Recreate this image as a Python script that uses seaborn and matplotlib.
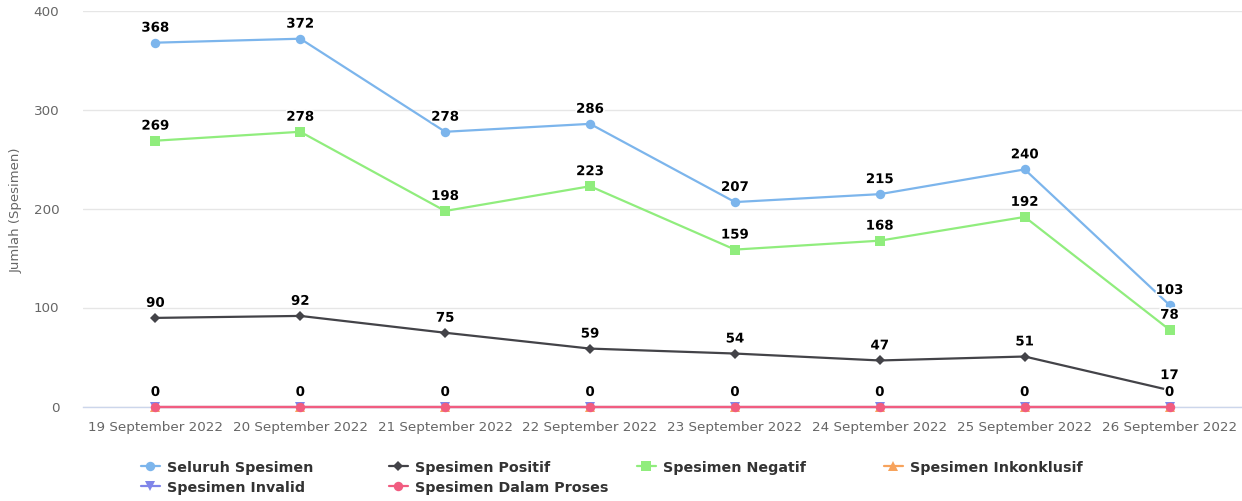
import matplotlib
matplotlib.use("Agg")
import matplotlib.pyplot as plt
import matplotlib.patheffects as pe
import seaborn as sns
import pandas as pd

tanggal = ["19 September 2022", "20 September 2022", "21 September 2022", "22 September 2022",
           "23 September 2022", "24 September 2022", "25 September 2022", "26 September 2022"]
seluruh = [368, 372, 278, 286, 207, 215, 240, 103]
positif = [90, 92, 75, 59, 54, 47, 51, 17]
negatif = [269, 278, 198, 223, 159, 168, 192, 78]
inkonklusif = [0, 0, 0, 0, 0, 0, 0, 0]
invalid = [0, 0, 0, 0, 0, 0, 0, 0]
dalam_proses = [0, 0, 0, 0, 0, 0, 0, 0]

series = [
    ("Seluruh Spesimen", seluruh, "#7cb5ec", "o", 6.8),
    ("Spesimen Positif", positif, "#434348", "D", 4.8),
    ("Spesimen Negatif", negatif, "#90ed7d", "s", 6.8),
    ("Spesimen Inkonklusif", inkonklusif, "#f7a35c", "^", 6.8),
    ("Spesimen Invalid", invalid, "#8085e9", "v", 6.8),
    ("Spesimen Dalam Proses", dalam_proses, "#f15c80", "o", 6.8),
]

sns.set_style("white")
plt.rcParams['font.family'] = ['DejaVu Sans']

fig = plt.figure(figsize=(12.42, 5.02), dpi=100)
ax = fig.add_axes([83 / 1242, 1 - 408 / 502, 1 - 83 / 1242, (408 - 12) / 502])

for i, (name, vals, col, mk, ms) in enumerate(series):
    df = pd.DataFrame({"tanggal": tanggal, "jumlah": vals})
    sns.lineplot(data=df, x="tanggal", y="jumlah", ax=ax, color=col, marker=mk,
                 markersize=ms, markeredgewidth=0, linewidth=1.6, label=name,
                 zorder=3 + i, sort=False, clip_on=False)

# data labels, hide ones that would sit on top of each other
sudah = set()
for name, vals, col, mk, ms in reversed(series):
    for j, v in enumerate(vals):
        if (j, v) in sudah:
            continue
        sudah.add((j, v))
        ax.annotate(str(v), (j, v), xytext=(0, 10.5), textcoords="offset points",
                    ha="center", va="center", fontsize=9.6, fontweight="bold",
                    color="black", zorder=20,
                    path_effects=[pe.withStroke(linewidth=2.5, foreground="white")])

ax.set_xlim(-0.5, len(tanggal) - 0.5)
ax.set_ylim(0, 400)
ax.set_yticks([0, 100, 200, 300, 400])
ax.grid(axis="y", color="#e6e6e6", linewidth=1)
ax.set_axisbelow(True)
for s in ["top", "right", "left"]:
    ax.spines[s].set_visible(False)
ax.spines["bottom"].set_color("#ccd6eb")
ax.spines["bottom"].set_linewidth(1)
ax.tick_params(axis="both", length=0, colors="#666666", labelsize=9.7)
ax.tick_params(axis="x", pad=9)
ax.tick_params(axis="y", pad=17)
ax.set_xlabel("")
ax.set_ylabel("Jumlah (Spesimen)", color="#666666", fontsize=9.5, labelpad=8)
for t in ax.get_yticklabels():
    t.set_va("center")

handles, labels = ax.get_legend_handles_labels()
ax.get_legend().remove()
# legend placed as four columns, like the original
kolom = [[0, 4], [1, 5], [2], [3]]
xs = [141, 389, 637, 884]
for idx, x0 in zip(kolom, xs):
    leg = fig.legend([handles[k] for k in idx], [labels[k] for k in idx],
                     loc="upper left", bbox_to_anchor=(x0 / 1242, 1 - 461 / 502),
                     frameon=False, handlelength=1.3, handletextpad=0.5,
                     labelspacing=0.45, borderpad=0, borderaxespad=0,
                     prop={"size": 10.3, "weight": "bold"})
    for t in leg.get_texts():
        t.set_color("#333333")

fig.savefig("out.png", dpi=100)
